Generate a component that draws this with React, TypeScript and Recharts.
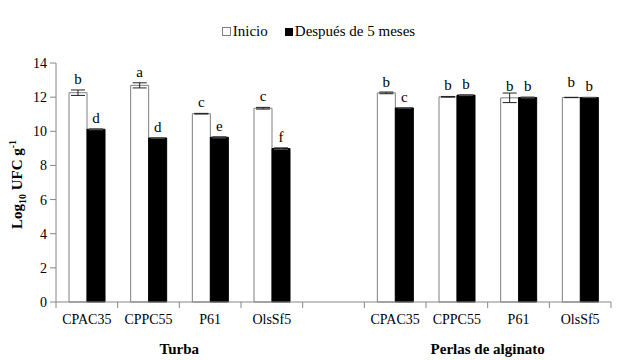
import React from 'react';
import { BarChart, Bar, XAxis, YAxis, ErrorBar, LabelList, Legend } from 'recharts';

const categories = ['CPAC35', 'CPPC55', 'P61', 'OlsSf5', '', 'CPAC35', 'CPPC55', 'P61', 'OlsSf5'];
const groups = ['Turba', 'Perlas de alginato'];
const inicio = [12.26, 12.69, 11.03, 11.35, null, 12.25, 12.02, 11.96, 11.98];
const inicioErr = [0.16, 0.15, 0.02, 0.05, null, 0.05, 0.02, 0.28, 0.01];
const inicioLetters = ['b', 'a', 'c', 'c', '', 'b', 'b', 'b', 'b'];
const despues = [10.12, 9.61, 9.65, 8.99, null, 11.37, 12.12, 11.98, 11.98];
const despuesErr = [0.03, 0.02, 0.04, 0.05, null, 0.01, 0.03, 0.03, 0.01];
const despuesLetters = ['d', 'd', 'e', 'f', '', 'c', 'b', 'b', 'b'];
const yTicks = [0, 2, 4, 6, 8, 10, 12, 14];

const W = 629;
const H = 360;
const M = { top: 63, right: 18, left: 26, bottom: 0 };
const X_AXIS_H = 58;
const plotW = W - M.left - M.right - 30;
const plotH = H - M.top - M.bottom - X_AXIS_H;
const band = plotW / categories.length;
const pxPerUnit = plotH / 14;
const axisY = M.top + plotH;
const serif = "'Liberation Serif', Tinos, 'Times New Roman', Times, 'DejaVu Serif', serif";
const axisColor = '#868686';

const data = categories.map((name, i) => ({
  name,
  inicio: inicio[i],
  inicioErr: inicioErr[i],
  inicioLetter: inicioLetters[i],
  despues: despues[i],
  despuesErr: despuesErr[i],
  despuesLetter: despuesLetters[i],
}));

const makeLetter = (errs: (number | null)[]) => (props: any) => {
  const { x, y, width, value, index } = props;
  if (!value) return null;
  const err = errs[index] ?? 0;
  return (
    <text
      x={x + width / 2}
      y={y - err * pxPerUnit - 6}
      textAnchor="middle"
      style={{ fontFamily: serif }}
      fontSize={15}
      fill="#000"
    >
      {value}
    </text>
  );
};

const CatTick = (props: any) => {
  const { x, payload, index } = props;
  const right = x + band / 2;
  let group: string | null = null;
  if (index === 1) group = groups[0];
  if (index === 6) group = groups[1];
  return (
    <g>
      {index === 0 && <line x1={x - band / 2} x2={x - band / 2} y1={axisY} y2={axisY + 6} stroke={axisColor} />}
      <line x1={right} x2={right} y1={axisY} y2={axisY + 6} stroke={axisColor} />
      <text x={x} y={axisY + 22} textAnchor="middle" style={{ fontFamily: serif }} fontSize={14} fill="#000">
        {payload.value}
      </text>
      {group && (
        <text x={right} y={axisY + 52} textAnchor="middle" style={{ fontFamily: serif }} fontSize={15} fontWeight="bold" fill="#000">
          {group}
        </text>
      )}
    </g>
  );
};

const YLabel = () => (
  <text
    transform={`translate(22, ${M.top + plotH / 2 + 2}) rotate(-90)`}
    textAnchor="middle"
    style={{ fontFamily: serif }}
    fontSize={15}
    fontWeight="bold"
    fill="#000"
  >
    Log
    <tspan fontSize={10} dy={4}>10</tspan>
    <tspan dy={-4}> UFC g</tspan>
    <tspan fontSize={10} dy={-6}>-1</tspan>
  </text>
);

const LegendContent = () => (
  <div
    style={{
      display: 'flex',
      justifyContent: 'center',
      alignItems: 'center',
      fontFamily: serif,
      fontSize: 15,
      color: '#000',
    }}
  >
    <span style={{ display: 'inline-block', width: 7, height: 7, border: '1px solid #7f7f7f', background: '#fff', marginRight: 2 }} />
    <span style={{ marginRight: 17 }}>Inicio</span>
    <span style={{ display: 'inline-block', width: 8, height: 8, background: '#000', marginRight: 2 }} />
    <span>Después de 5 meses</span>
  </div>
);

export default function App() {
  return (
    <div style={{ position: 'absolute', left: 0, top: 0, width: W, height: H, background: '#fff', fontFamily: serif }}>
      <BarChart width={W} height={H} data={data} margin={M} barGap={0} barSize={18} style={{ fontFamily: serif }}>
        <Legend
          layout="horizontal"
          verticalAlign="middle"
          align="center"
          content={<LegendContent />}
          wrapperStyle={{ top: 23, left: 4, width: W, height: 20 }}
        />
        <XAxis
          dataKey="name"
          interval={0}
          tickLine={false}
          stroke={axisColor}
          height={X_AXIS_H}
          tick={<CatTick />}
        />
        <YAxis
          domain={[0, 14]}
          ticks={yTicks}
          width={30}
          tickSize={6}
          tickMargin={3}
          stroke={axisColor}
          tick={{ fill: '#000', fontSize: 14, style: { fontFamily: serif } }}
          label={<YLabel />}
        />
        <Bar dataKey="inicio" fill="#ffffff" stroke="#7f7f7f" strokeWidth={1} isAnimationActive={false}>
          <ErrorBar dataKey="inicioErr" width={7} stroke="#222" strokeWidth={1} />
          <LabelList dataKey="inicioLetter" content={makeLetter(inicioErr)} />
        </Bar>
        <Bar dataKey="despues" fill="#000000" stroke="#000000" strokeWidth={1} isAnimationActive={false}>
          <ErrorBar dataKey="despuesErr" width={7} stroke="#555" strokeWidth={1} />
          <LabelList dataKey="despuesLetter" content={makeLetter(despuesErr)} />
        </Bar>
      </BarChart>
    </div>
  );
}
